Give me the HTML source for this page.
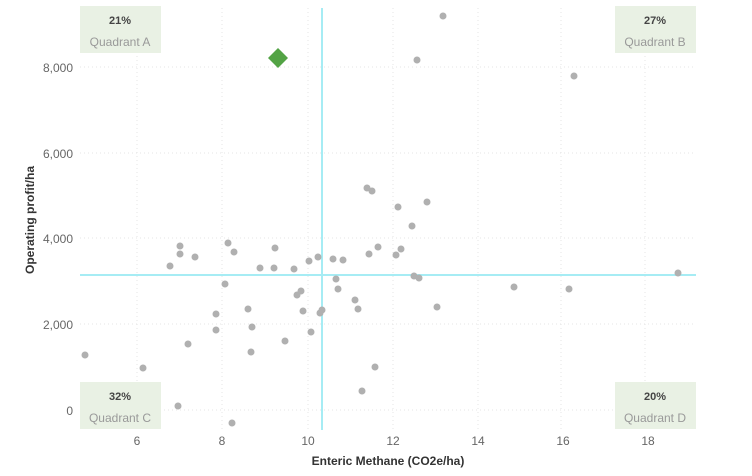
<!DOCTYPE html>
<html><head><meta charset="utf-8"><style>body{margin:0;background:#fff}svg{display:block;font-family:"Liberation Sans",sans-serif}</style></head><body>
<svg width="752" height="476" xmlns="http://www.w3.org/2000/svg">
<g stroke="#e4e4e4" stroke-dasharray="1,3" stroke-width="1">
<line x1="137" y1="8" x2="137" y2="430"/><line x1="222" y1="8" x2="222" y2="430"/><line x1="308" y1="8" x2="308" y2="430"/><line x1="393" y1="8" x2="393" y2="430"/><line x1="478" y1="8" x2="478" y2="430"/><line x1="561" y1="8" x2="561" y2="430"/><line x1="645" y1="8" x2="645" y2="430"/>
<line x1="80" y1="67" x2="696" y2="67"/><line x1="80" y1="153" x2="696" y2="153"/><line x1="80" y1="238" x2="696" y2="238"/><line x1="80" y1="324" x2="696" y2="324"/><line x1="80" y1="410" x2="696" y2="410"/>
</g>
<g fill="#e9f1e4">
<rect x="80" y="6" width="81" height="47"/><rect x="615" y="6" width="81" height="47"/><rect x="80" y="382" width="81" height="47"/><rect x="615" y="382" width="81" height="47"/>
</g>
<g font-size="11" fill="#444" text-anchor="middle" font-weight="bold">
<text x="120" y="24">21%</text><text x="655" y="24">27%</text><text x="120" y="400">32%</text><text x="655" y="400">20%</text>
</g>
<g font-size="12" fill="#999" text-anchor="middle">
<text x="120" y="46">Quadrant A</text><text x="655" y="46">Quadrant B</text><text x="120" y="422">Quadrant C</text><text x="655" y="422">Quadrant D</text>
</g>
<line x1="322" y1="8" x2="322" y2="430" stroke="#a6ecf4" stroke-width="2"/>
<line x1="80" y1="275" x2="696" y2="275" stroke="#a6ecf4" stroke-width="2"/>
<g fill="#b0b0b0">
<circle cx="443" cy="16" r="3.5"/><circle cx="417" cy="60" r="3.5"/><circle cx="574" cy="76" r="3.5"/>
<circle cx="367" cy="188" r="3.5"/><circle cx="372" cy="191" r="3.5"/><circle cx="398" cy="207" r="3.5"/><circle cx="427" cy="202" r="3.5"/><circle cx="412" cy="226" r="3.5"/>
<circle cx="180" cy="246" r="3.5"/><circle cx="180" cy="254" r="3.5"/><circle cx="195" cy="257" r="3.5"/><circle cx="170" cy="266" r="3.5"/><circle cx="228" cy="243" r="3.5"/><circle cx="234" cy="252" r="3.5"/><circle cx="275" cy="248" r="3.5"/>
<circle cx="260" cy="268" r="3.5"/><circle cx="274" cy="268" r="3.5"/><circle cx="294" cy="269" r="3.5"/><circle cx="309" cy="261" r="3.5"/><circle cx="318" cy="257" r="3.5"/><circle cx="333" cy="259" r="3.5"/><circle cx="343" cy="260" r="3.5"/><circle cx="369" cy="254" r="3.5"/><circle cx="378" cy="247" r="3.5"/><circle cx="396" cy="255" r="3.5"/><circle cx="401" cy="249" r="3.5"/>
<circle cx="414" cy="276" r="3.5"/><circle cx="419" cy="278" r="3.5"/><circle cx="225" cy="284" r="3.5"/><circle cx="336" cy="279" r="3.5"/><circle cx="338" cy="289" r="3.5"/><circle cx="301" cy="291" r="3.5"/><circle cx="297" cy="295" r="3.5"/><circle cx="355" cy="300" r="3.5"/><circle cx="358" cy="309" r="3.5"/><circle cx="437" cy="307" r="3.5"/>
<circle cx="248" cy="309" r="3.5"/><circle cx="216" cy="314" r="3.5"/><circle cx="303" cy="311" r="3.5"/><circle cx="322" cy="310" r="3.5"/><circle cx="320" cy="313" r="3.5"/><circle cx="216" cy="330" r="3.5"/><circle cx="252" cy="327" r="3.5"/><circle cx="311" cy="332" r="3.5"/><circle cx="188" cy="344" r="3.5"/><circle cx="285" cy="341" r="3.5"/><circle cx="251" cy="352" r="3.5"/><circle cx="375" cy="367" r="3.5"/>
<circle cx="514" cy="287" r="3.5"/><circle cx="569" cy="289" r="3.5"/><circle cx="678" cy="273" r="3.5"/><circle cx="85" cy="355" r="3.5"/><circle cx="143" cy="368" r="3.5"/><circle cx="362" cy="391" r="3.5"/><circle cx="178" cy="406" r="3.5"/><circle cx="232" cy="423" r="3.5"/>
</g>
<polygon points="278,48 288,58 278,68 268,58" fill="#53a345"/>
<g font-size="12" fill="#666" text-anchor="end">
<text x="73" y="72">8,000</text><text x="73" y="158">6,000</text><text x="73" y="243">4,000</text><text x="73" y="329">2,000</text><text x="73" y="415">0</text>
</g>
<g font-size="12" fill="#666" text-anchor="middle">
<text x="137" y="445">6</text><text x="222" y="445">8</text><text x="308" y="445">10</text><text x="393" y="445">12</text><text x="478" y="445">14</text><text x="563" y="445">16</text><text x="648" y="445">18</text>
</g>
<text x="388" y="465" font-size="12" font-weight="bold" fill="#333" text-anchor="middle">Enteric Methane (CO2e/ha)</text>
<text transform="translate(34,220) rotate(-90)" font-size="12" font-weight="bold" fill="#333" text-anchor="middle">Operating profit/ha</text>
</svg>
</body></html>
